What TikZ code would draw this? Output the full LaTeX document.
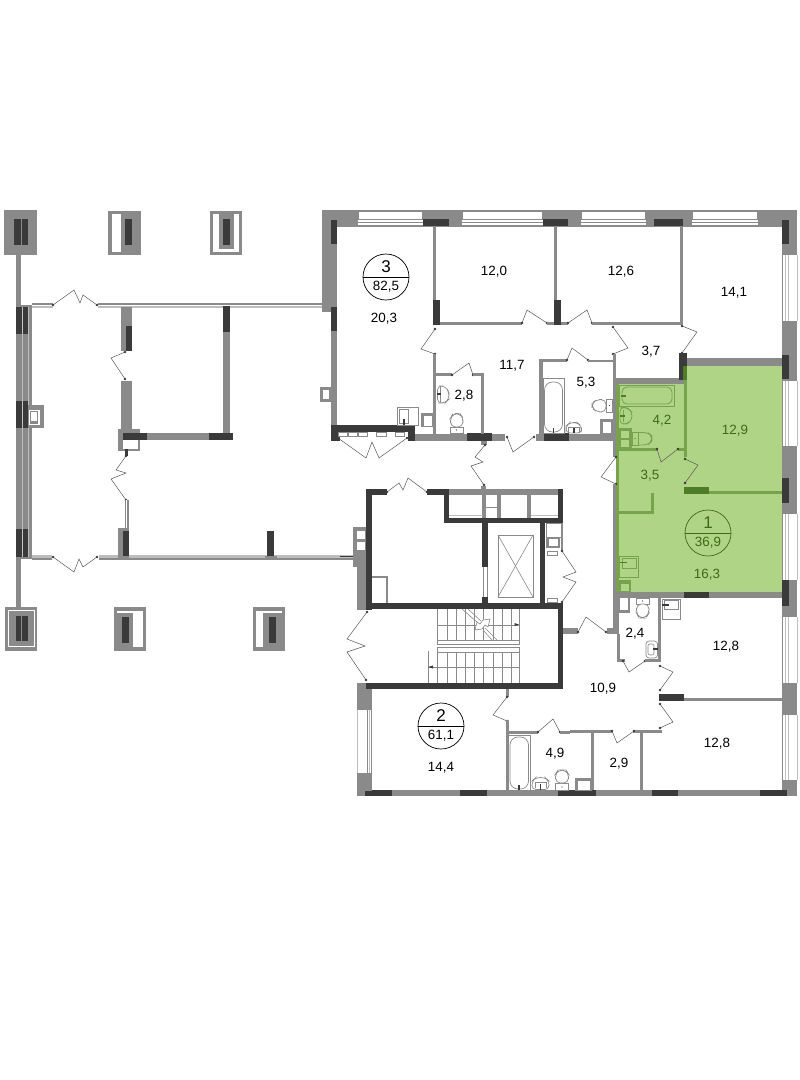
\documentclass[tikz,border=0pt]{standalone}
\usepackage{fontspec}
\setmainfont{Liberation Sans}
\definecolor{wg}{HTML}{8A8A8A}
\definecolor{wd}{HTML}{3A3A3A}
\definecolor{wl}{HTML}{BDBDBD}
\definecolor{gf}{HTML}{AFD486}
\definecolor{gm}{HTML}{76A34C}
\definecolor{gd}{HTML}{4F7D27}
\definecolor{gt}{HTML}{3D6A12}
\newcommand\WW[4]{\fill[wg] (#1,#2) rectangle (#3,#4);}
\newcommand\DD[4]{\fill[wd] (#1,#2) rectangle (#3,#4);}
\newcommand\LL[4]{\fill[white] (#1,#2) rectangle (#3,#4);}
\newcommand\GG[4]{\fill[gm] (#1,#2) rectangle (#3,#4);}
% door: #1 = hinge, #2 = middle path, #3 = end
\newcommand\DOOR[3]{\draw[doorline] #1 -- #2 -- #3; \fill[wd] #1 circle (1.3); \fill[wd] #3 circle (1.3);}
\newcommand\WINH[2]{\fill[white] (#1,212) rectangle (#2,219); \fill[white] (#1-1,220) rectangle (#2+1,221.5); \fill[white] (#1-1,223) rectangle (#2+1,224.5);}
\newcommand\WINV[2]{\fill[white] (783,#1) rectangle (797,#2); \fill[wl] (785,#1) rectangle (786,#2); \fill[wl] (788,#1) rectangle (789,#2); \fill[wl] (796.5,#1) rectangle (797.5,#2);}
\newcommand\BOX[4]{\fill[wg] (#1,#2) rectangle (#3,#4); \fill[white] (#1+2.5,#2+2.5) rectangle (#3-2.5,#4-1);}
\newcommand\CIRC[6]{\node[circ,draw=#6] (#1) at (#2,#3) {}; \draw[#6,line width=.7] (#1.west) -- (#1.east);
  \node[txt,text=#6,font=\fontsize{17}{17}\selectfont] (#1n) at (#2,#3-10) {#4};
  \node[txt,text=#6,font=\fontsize{13.4}{14}\selectfont] (#1a) at (#2,#3+10) {#5};}
\newcommand\ROOM[4]{\node[txt,text=#4] (#1) at (#2,#3) {#1};}
\tikzset{
  doorline/.style={draw=wd!85,line width=.5,line join=miter},
  txt/.style={inner sep=0,font=\fontsize{13.4}{14}\selectfont},
  circ/.style={circle,minimum size=46,inner sep=0,line width=.7},
  fix/.style={draw=wg,line width=.7,fill=white},
  fixg/.style={draw=gm,line width=.8},
  st/.style={draw=wg,line width=.6},
}
\begin{document}
\begin{tikzpicture}[x=1pt,y=-1pt]
\useasboundingbox (0,0) rectangle (800,1080);
% ------------- green flat
\fill[gf] (616,384) -- (685,384) -- (685,366) -- (782,366) -- (782,592) -- (616,592) -- cycle;
% ------------- left gallery columns
\WW{4}{210}{37}{255} \DD{14}{219}{21}{245} \DD{22}{219}{28}{245}
\WW{108}{211}{141}{255} \LL{112}{214}{121}{252} \DD{125}{219}{132}{245}
\WW{210}{211}{242}{255} \LL{213}{214}{239}{252} \WW{219}{214}{234}{249} \DD{223}{219}{230}{245}
\WW{5}{607}{37}{651} \fill[white] (8,610) rectangle (35,647); \WW{9}{611}{34}{646} \DD{16}{616}{21}{641} \DD{22}{616}{28}{641}
\WW{114}{607}{146}{651} \LL{117}{611}{143}{647} \WW{117}{613}{133}{647} \DD{122}{617}{129}{643}
\WW{253}{607}{285}{651} \LL{256}{611}{282}{647} \WW{263}{613}{282}{647} \DD{269}{617}{276}{643}
% left wall
\WW{16}{255}{21}{310} \WW{16}{305}{32}{559} \WW{16}{555}{21}{607}
\fill[wl] (21.5,334) rectangle (23,529); \fill[wl] (28,307) rectangle (29,557);
\DD{16}{307}{28}{334} \DD{16}{401}{28}{428} \DD{16}{529}{28}{557}
\fill[wd!30] (21.5,307) rectangle (22.2,334); \fill[wd!30] (21.5,401) rectangle (22.2,428); \fill[wd!30] (21.5,529) rectangle (22.2,557);
\WW{28}{405}{44}{428} \LL{29}{410}{40}{425} \WW{30}{411}{38}{424} \LL{31}{412}{37}{421}
% gallery rails
\WW{32}{303}{53}{305} \fill[wl] (32,306) rectangle (53,307.5);
\WW{98}{303}{322}{305} \fill[wl] (98,306) rectangle (322,307.5);
\fill[wl] (32,555) rectangle (52,557.5); \WW{32}{558}{52}{559.5}
\fill[wl] (99,555) rectangle (360,557.5); \WW{99}{558}{360}{559.5}
\DOOR{(53,305)}{(74,290) -- (80,303) -- (83,295)}{(97,305)}
\DOOR{(53,557)}{(74,572) -- (79,559) -- (83,567)}{(97,557)}
% gallery partitions
\WW{121}{307}{132}{351} \DD{126}{326}{132}{351}
\DOOR{(125,352)}{(111,358)}{(125,379)}
\WW{121}{381}{132}{433}
\WW{118}{429}{140}{451} \LL{123}{439}{138}{449}
\DD{123}{433}{147}{440} \WW{147}{433}{209}{440} \DD{209}{433}{233}{440}
\WW{223}{332}{230}{433} \DD{223}{306}{230}{332}
\fill[wd] (125,449) rectangle (128,456);
\DOOR{(126,456)}{(116,470) -- (126,473) -- (111,479)}{(126,500)}
\WW{125}{500}{128.5}{529} \LL{125.8}{500}{127}{529}
\WW{118}{528}{129}{560} \DD{123}{531}{129}{556}
\DD{267}{531}{274}{556} \WW{265}{556}{277}{560}
% ------------- main block outer walls
\WW{322}{210}{337}{312} \WW{322}{210}{783}{227} \WW{782}{210}{797}{227}
\fill[white] (797,210) rectangle (800,212);
\WW{331}{312}{337}{427}
\WINH{359}{422} \WINH{463}{542} \WINH{582}{645} \WINH{693}{757}
\DD{423}{219}{449}{226} \DD{543}{219}{568}{226} \DD{654}{219}{683}{226}
\DD{331}{220}{337}{244} \DD{331}{307}{337}{331}
% right wall
\WW{782}{227}{797}{796}
\WINV{255}{321} \WINV{381}{446} \WINV{514}{580} \WINV{617}{683} \WINV{715}{780}
\DD{782}{220}{789}{244} \DD{782}{355}{789}{379} \DD{782}{478}{789}{503} \DD{782}{580}{789}{606}
% bottom wall
\WW{357}{790}{788}{796}
\DD{365}{790}{392}{796} \DD{460}{790}{487}{796} \DD{558}{790}{596}{796} \DD{652}{790}{678}{796} \DD{760}{790}{787}{796}
% south-west corner of flat 2
\WW{357}{683}{372}{791} \LL{357}{710}{372}{773}
\fill[wl] (356.5,710) rectangle (357.5,773); \WW{366.5}{710}{367.3}{773} \fill[wl] (369,710) rectangle (369.8,773); \WW{371.3}{710}{372.2}{773}
% ------------- flat 3
\fill[wd] (331,425) rectangle (415,432); \fill[wd] (331,432) rectangle (340,441); \fill[wd] (408,432) rectangle (415,441);
\foreach \a/\b in {338/347,348/357,358/367,376/386,395/404} {\draw[fix] (\a,432.5) rectangle (\b,436);}
\DOOR{(338,438)}{(366,458) -- (372,442) -- (379,458)}{(407,438)}
\WW{415}{434}{467}{441} \DD{467}{433}{492}{441} \WW{492}{434}{505}{441}
\DOOR{(507,437)}{(513,452)}{(534,437)}
\WW{536}{434}{544}{441} \DD{544}{433}{569}{441} \WW{569}{434}{615}{441}
\WW{433}{227}{436}{300} \DD{433}{300}{440}{325} \WW{440}{322}{522}{324.5}
\DOOR{(522,323)}{(527,310)}{(547,323)}
\WW{547}{322}{554}{324.5} \WW{554}{227}{557}{300} \DD{554}{300}{561}{324.5} \WW{561}{322}{568}{324.5}
\DOOR{(568,323)}{(587,310)}{(592,323)}
\WW{592}{322}{683}{324.5} \WW{680}{227}{683}{324.5}
\DOOR{(435,329)}{(421,349)}{(435,354)}
\WW{433}{354}{436}{434}
\WW{436}{373}{452}{375.5} \DOOR{(452,375)}{(469,363)}{(473,375)} \WW{473}{373}{483}{375.5} \WW{481}{373}{483.5}{434}
\WW{539}{359}{543}{434} \WW{539}{359}{567}{362}
\DOOR{(567,360)}{(572,348)}{(588,360)}
\WW{588}{360}{613}{362}
\DOOR{(613,327)}{(628,348)}{(613,354)}
\DOOR{(682,326)}{(697,332)}{(682,353)}
\WW{613}{354}{616}{384} \WW{613}{378}{685}{384} \WW{613}{384}{616}{458}
\WW{687}{358}{782}{366}
\DD{679}{353}{687}{366} \fill[gd] (679,366) rectangle (687,380); \fill[wd] (679,366) rectangle (683,380);
\WW{320}{387}{331}{402} \LL{322.5}{390}{329}{398.5}
% fixtures flat 3
\draw[fix] (397.5,407) rectangle (418.5,425.5); \draw[wg,line width=.7] (399,409) rectangle (408,423);
\fill[wd] (403,419) rectangle (404.5,425);
\BOX{421}{413}{434}{427}
\draw[fix,rounded corners=4] (437.5,386) -- (445,386) -- (449,392) -- (449,399) -- (445,403) -- (437.5,403) -- cycle;
\draw[wg,line width=.6] (440,386) -- (440,403);
\fill[wd] (437,393) rectangle (441,395);
\draw[fix] (450.5,427) rectangle (463,433); \draw[fix,rounded corners=5] (450.5,427) -- (450.5,418) -- (453,413.5) -- (460,413.5) -- (463,418) -- (463,427) -- cycle;
\fill[wd] (456.5,430) circle (.7);
% fixtures 5.3
\draw[st] (543,378) rectangle (564,433);
\draw[fix,rounded corners=8] (544.5,432) -- (544.5,382) -- (562.5,382) -- (562.5,432) -- cycle;
\fill[wd] (552.5,428) rectangle (554,433);
\draw[fix,rounded corners=5] (606,399.5) -- (597,399.5) -- (592,403) -- (592,408) -- (597,412) -- (606,412) -- cycle; \draw[fix] (606,399.5) rectangle (612.5,412); \fill[wd] (609.5,405.5) circle (.7);
\draw[fix,rounded corners=4] (566,433) -- (566,426) -- (570,422.5) -- (577,422.5) -- (581.5,426) -- (581.5,433) -- cycle; \draw[st] (568,433) -- (568,427) -- (579,427) -- (579,433); \fill[wd] (573,428) rectangle (574.5,433);
\BOX{600}{419}{613}{434}
% ------------- flat 1 interior
\fill[gm] (616,384) rectangle (619,450);
\GG{684}{380}{687}{457}
\GG{616}{448}{657}{451} \GG{678}{448}{685}{451}
\fill[gd] (684,487) rectangle (709,494); \GG{709}{491}{782}{494}
\GG{651}{493}{654}{514} \GG{616}{511}{654}{514}
\GG{616}{451}{619}{592}
\WW{613}{458}{616}{462}
\LL{613}{457}{616}{484}
\DOOR{(616,457)}{(601,477)}{(616,484)}
\WW{613}{484}{616}{598}
\DOOR{(657,449)}{(661,462)}{(678,449)}
\DOOR{(685,459)}{(698,465)}{(685,483)}
% bath in flat 1
\draw[fixg] (619.5,385) rectangle (674,406);
\draw[fixg,rounded corners=5] (622,387) -- (672,387) -- (672,404) -- (622,404) -- cycle;
\fill[gd] (621,395) rectangle (626,397);
\draw[fixg,rounded corners=4] (620,407.5) -- (627,407.5) -- (632,412) -- (632,420) -- (627,424) -- (620,424) -- cycle; \draw[gm,line width=.6] (623,410) -- (623,422);
\fill[gd] (620,415) rectangle (625,417);
\fill[gm] (619,428) rectangle (631.5,448); \fill[gf] (621,431) rectangle (628.5,437.5); \fill[gf] (621,440) rectangle (628.5,446.5);
\draw[fixg] (632,432.5) rectangle (638,445); \draw[fixg,rounded corners=5] (638,432.5) -- (648,432.5) -- (652,436) -- (652,441) -- (648,445) -- (638,445);
\fill[gd] (635,438.5) circle (.7);
\draw[fixg] (619.5,556) rectangle (638,577); \draw[fixg] (622,558) rectangle (636,568); \fill[gd] (619.5,561.5) rectangle (627,563);
\fill[gm] (619,580) rectangle (631,592); \fill[gf] (621,584) rectangle (628.5,591);
% bottom of flat 1
\WW{613}{592}{782}{598} \DD{684}{592}{709}{598}
% ------------- lower right rooms
\WW{613}{598}{619}{634} \WW{607}{628}{619}{634} \WW{617}{634}{619.5}{662}
\WW{617}{659}{625}{662} \DOOR{(623,661)}{(629,672)}{(645,661)} \WW{645}{659}{661}{662}
\WW{658}{598}{661}{662}
\BOX{619}{597}{630}{613} \LL{619.5}{598}{627.5}{610} \WW{619}{610}{630}{613}
\draw[fix] (636.5,598) rectangle (649,604); \draw[fix,rounded corners=5] (636.5,604) -- (636.5,613) -- (639,618) -- (646,618) -- (649,613) -- (649,604) -- cycle;
\fill[wd] (642.5,601) circle (.7);
\draw[fix,rounded corners=3] (646,641) -- (657.5,641) -- (657.5,658) -- (646,658) -- cycle; \draw[st,rounded corners=2] (648,644) -- (654,644) -- (654,655) -- (648,655) -- cycle; \fill[wd] (653,648) rectangle (658,650);
\draw[fix] (662,599) rectangle (680,619); \draw[st] (664,600.5) rectangle (678,609); \fill[wd] (662,604) rectangle (669,605.5);
\DOOR{(660,666)}{(673,672)}{(660,690)}
\DD{659}{694}{684}{701} \WW{684}{698}{783}{701}
\DOOR{(660,704)}{(673,722)}{(660,728)}
\WW{633}{730}{662}{733} \WW{570}{730}{612}{733}
\DOOR{(612,731)}{(617,743)}{(634,731)}
\WW{591}{733}{594}{790} \WW{640}{733}{643}{790}
% ------------- flat 2 interior
\WW{506}{689}{508.5}{697}
\DOOR{(507,697)}{(493,715)}{(507,721)}
\WW{506}{720}{508.5}{792} \WW{508}{731}{538}{733.5}
\DOOR{(538,732)}{(553,719)}{(560,732)}
\WW{560}{731}{570}{733.5}
\draw[st] (508.5,735) rectangle (530,790);
\draw[fix,rounded corners=8] (510,789) -- (510,737) -- (528.5,737) -- (528.5,789) -- cycle;
\fill[wd] (518,785) rectangle (519.5,790);
\draw[fix,rounded corners=4] (532,789.5) -- (532,781) -- (536,777.5) -- (545,777.5) -- (549,781) -- (549,789.5) -- cycle; \draw[st] (535,788) -- (535,782) -- (546,782) -- (546,788);\fill[wd] (539.5,784) rectangle (541,790);
\draw[fix] (555.5,783) rectangle (568.5,790); \draw[fix,rounded corners=5] (555.5,783) -- (555.5,774) -- (558,770) -- (566,770) -- (568.5,774) -- (568.5,783) -- cycle;\fill[wd] (562,787) circle (.7);
\BOX{575}{778}{592}{791} \LL{579}{781.5}{588}{790}
% ------------- core
% cells above lift
\WW{449}{489}{558}{495}
\WW{482}{495}{486}{518} \WW{497}{495}{501}{518} \WW{527}{495}{531}{518}
\draw[st] (486,507) -- (497,507);
\fill[wl] (449,514.5) rectangle (483,516); \fill[wl] (531,514.5) rectangle (558,516);
% left gray bit
\WW{353}{527}{366}{567} \WW{357}{567}{366}{610}
\LL{357}{531}{365}{539} \LL{357}{542}{365}{550}
\draw[wd,line width=.5] (340,556) -- (353,556);
% small room
\WW{372}{576}{388}{578} \WW{386}{576}{388}{603}
% right boxes
\WW{561}{523}{563}{551} \WW{546}{537}{560}{548} \LL{548.5}{539}{557.5}{546}
\draw[st] (546,523) rectangle (561,537);
\draw[fix] (547,551) rectangle (557,555); \draw[fix] (547,598) rectangle (557,602.5);
% thick core walls
\DD{366}{489}{372}{610} \DD{366}{489}{387}{495}
\DD{427}{489}{449}{495} \DD{444}{489}{449}{523}
\DD{444}{518}{563}{523} \DD{558}{489}{563}{523}
\DD{482}{523}{488}{567} \LL{483}{567}{488}{597} \WW{487}{567}{488}{597} \WW{483}{567}{483.7}{597} \DD{482}{597}{488}{603}
\DD{540}{523}{545}{603}
\DD{366}{603}{563}{609} \DD{558}{603}{563}{689}
\DD{366}{683}{563}{689}
\DOOR{(387,492)}{(399,483) -- (403,490) -- (408,478)}{(427,492)}
\draw[st] (498,535) rectangle (533,597); \draw[st] (498,535) -- (533,597); \draw[st] (533,535) -- (498,597);
\DOOR{(562,551)}{(576,572) -- (563,577) -- (576,582)}{(562,602)}
\DOOR{(367,612)}{(347,639) -- (365,646) -- (347,652)}{(366,680)}
% top-of-core corridor door
\WW{481}{441}{487}{445} \DOOR{(485,445)}{(475,457) -- (483,462) -- (471,466)}{(484,485)} \WW{481}{486}{486}{489}
% door to corridor at right
\WW{563}{628}{578}{634}
\DOOR{(578,632)}{(586,617)}{(606,632)}
% stairs
\foreach \x in {437,447,456,465,474,483,493,502,511,519} {\draw[st] (\x,609) -- (\x,640); \draw[st] (\x,652) -- (\x,683);}
\draw[st] (437,625) -- (519,625); \draw[st] (437,667) -- (519,667);
\draw[st] (437,640) rectangle (519,644); \draw[st] (437,647.5) rectangle (519,652);
\draw[st] (428,651) -- (428,683);
\draw[st] (428,667) -- (437,667);
\fill[wd] (428,667) -- (433,665.5) -- (433,668.5) -- cycle;
\fill[wd] (519,624.5) -- (514.5,623) -- (514.5,626) -- cycle;
\draw[st] (462,609) -- (477,622); \draw[st] (468,609) -- (481,621);
\draw[st] (485,628) -- (497,640); \draw[st] (483,630) -- (492,640);
\draw[st,fill=white] (475,630) -- (477,622) -- (480,624) -- (483,620) -- (490,619) -- (488,627) -- (485,625) -- (482,629) -- cycle;
% ------------- labels
\CIRC{c3}{386}{277}{3}{82,5}{black}
\CIRC{c1}{708}{533}{1}{36,9}{gt}
\CIRC{c2}{441}{726}{2}{61,1}{black}
\ROOM{20,3}{384}{319}{black}
\ROOM{12,0}{494}{272}{black}
\ROOM{12,6}{621}{272}{black}
\ROOM{14,1}{734}{293}{black}
\ROOM{11,7}{512}{366}{black}
\ROOM{3,7}{651}{352}{black}
\ROOM{2,8}{464}{396}{black}
\ROOM{5,3}{586}{383}{black}
\ROOM{12,9}{735}{431}{gt}
\ROOM{4,2}{662}{421}{gt}
\ROOM{3,5}{650}{476}{gt}
\ROOM{16,3}{707}{575}{gt}
\ROOM{2,4}{635}{634}{black}
\ROOM{10,9}{603}{689}{black}
\ROOM{14,4}{441}{768}{black}
\ROOM{4,9}{555}{754}{black}
\ROOM{2,9}{619}{764}{black}
\node[txt] (r128a) at (726,647) {12,8};
\node[txt] (r128b) at (717,744) {12,8};
\end{tikzpicture}
\end{document}
